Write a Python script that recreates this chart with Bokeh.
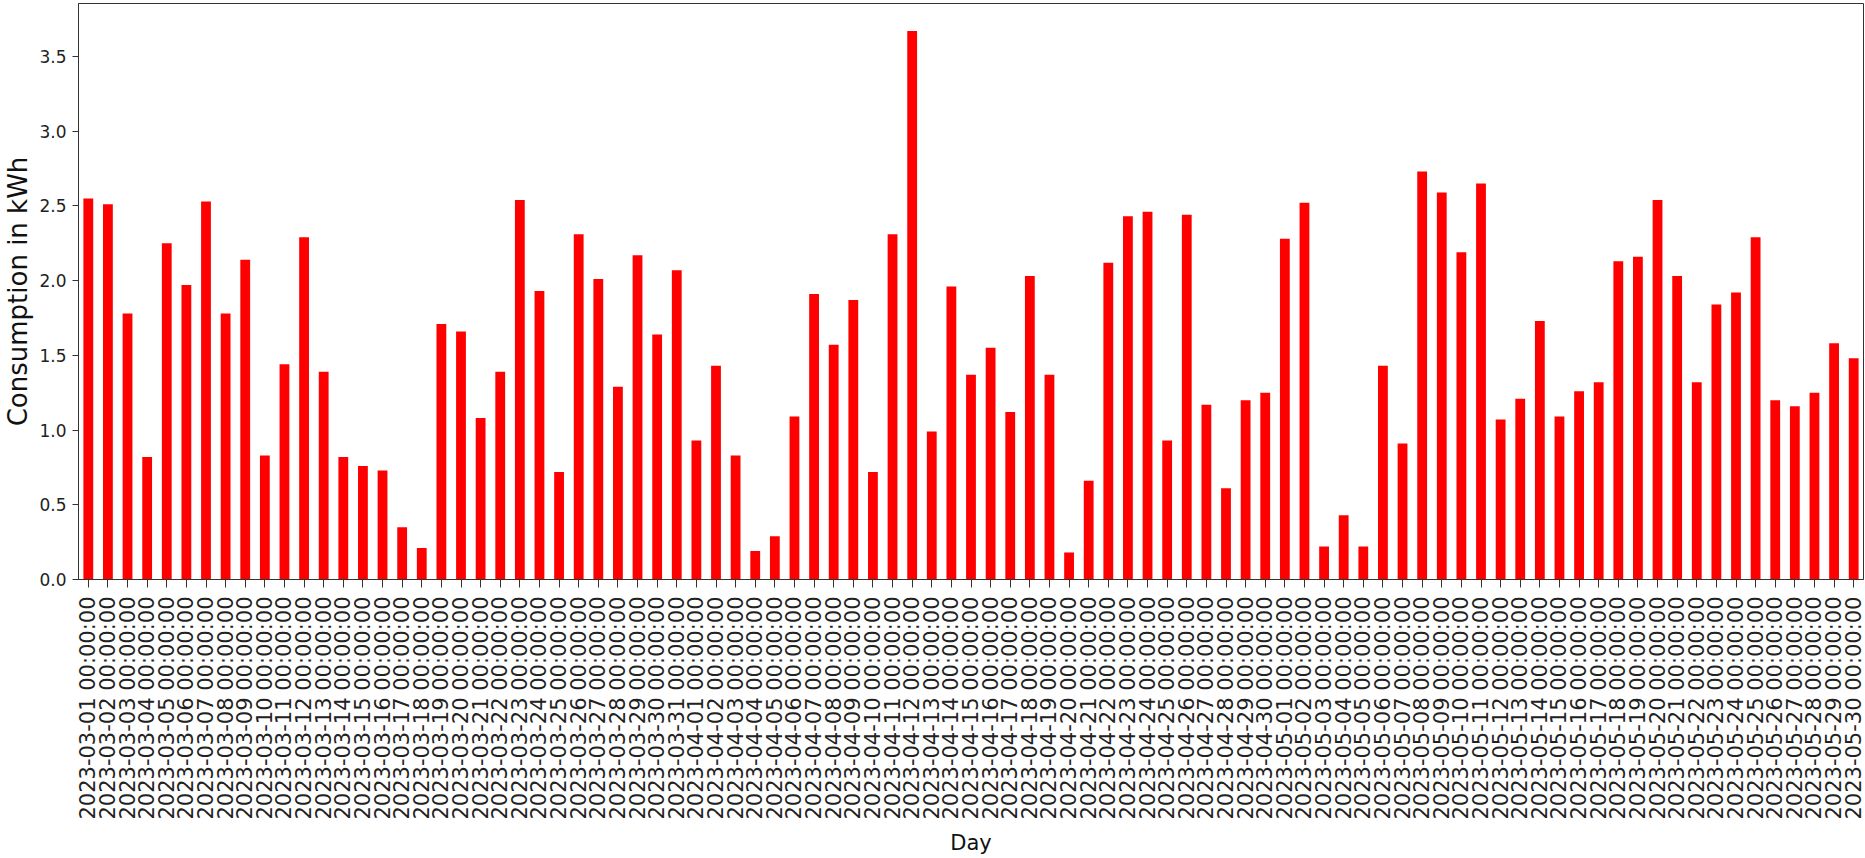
import math
import pandas as pd
from bokeh.plotting import figure
from bokeh.models import FactorRange, Range1d, FixedTicker, NumeralTickFormatter, ColumnDataSource
from bokeh.embed import file_html
from bokeh.resources import INLINE

# Categories: one per day, 2023-03-01 .. 2023-05-30
days = [d.strftime("%Y-%m-%d %H:%M:%S") for d in pd.date_range("2023-03-01", "2023-05-30", freq="D")]

# Daily consumption in kWh
consumption_march = [
    2.55, 2.51, 1.78, 0.82, 2.25, 1.97, 2.53, 1.78, 2.14, 0.83,
    1.44, 2.29, 1.39, 0.82, 0.76, 0.73, 0.35, 0.21, 1.71, 1.66,
    1.08, 1.39, 2.54, 1.93, 0.72, 2.31, 2.01, 1.29, 2.17, 1.64,
    2.07,
]
consumption_april = [
    0.93, 1.43, 0.83, 0.19, 0.29, 1.09, 1.91, 1.57, 1.87, 0.72,
    2.31, 3.67, 0.99, 1.96, 1.37, 1.55, 1.12, 2.03, 1.37, 0.18,
    0.66, 2.12, 2.43, 2.46, 0.93, 2.44, 1.17, 0.61, 1.20, 1.25,
]
consumption_may = [
    2.28, 2.52, 0.22, 0.43, 0.22, 1.43, 0.91, 2.73, 2.59, 2.19,
    2.65, 1.07, 1.21, 1.73, 1.09, 1.26, 1.32, 2.13, 2.16, 2.54,
    2.03, 1.32, 1.84, 1.92, 2.29, 1.20, 1.16, 1.25, 1.58, 1.48,
]
consumption = consumption_march + consumption_april + consumption_may

y_ticks = [0.0, 0.5, 1.0, 1.5, 2.0, 2.5, 3.0, 3.5]

source = ColumnDataSource(data=dict(day=days, kwh=consumption))

p = figure(
    width=1865, height=858,
    x_range=FactorRange(factors=days, range_padding=0),
    y_range=Range1d(0, 3.854),
    output_backend="svg", toolbar_location=None,
    min_border_left=73, min_border_right=2, min_border_top=3, min_border_bottom=279,
    background_fill_color="white", border_fill_color="white",
)

p.vbar(x="day", top="kwh", width=0.5, source=source, fill_color="#ff0000", line_color=None)

p.xgrid.grid_line_color = None
p.ygrid.grid_line_color = None
p.outline_line_color = "#333333"
p.outline_line_width = 1

for ax in (p.xaxis, p.yaxis):
    ax.axis_line_color = "#333333"
    ax.major_tick_line_color = "#333333"
    ax.minor_tick_line_color = None
    ax.major_tick_in = 0
    ax.major_label_text_font = "DejaVu Sans"
    ax.major_label_text_color = "#222222"
    ax.axis_label_text_font = "DejaVu Sans"
    ax.axis_label_text_font_style = "normal"
    ax.axis_label_text_color = "#111111"

p.xaxis.major_tick_out = 8
p.xaxis.major_label_orientation = math.pi / 2
p.xaxis.major_label_text_font_size = "21px"
p.xaxis.major_label_standoff = 9
p.xaxis.axis_label = "Day"
p.xaxis.axis_label_text_font_size = "21px"
p.xaxis.axis_label_standoff = 8

p.yaxis.ticker = FixedTicker(ticks=y_ticks)
p.yaxis.formatter = NumeralTickFormatter(format="0.0")
p.yaxis.major_tick_out = 6
p.yaxis.major_label_text_font_size = "17px"
p.yaxis.major_label_standoff = 6
p.yaxis.axis_label = "Consumption in kWh"
p.yaxis.axis_label_text_font_size = "26px"
p.yaxis.axis_label_standoff = 3

open("out.html", "w").write(file_html(p, INLINE))
